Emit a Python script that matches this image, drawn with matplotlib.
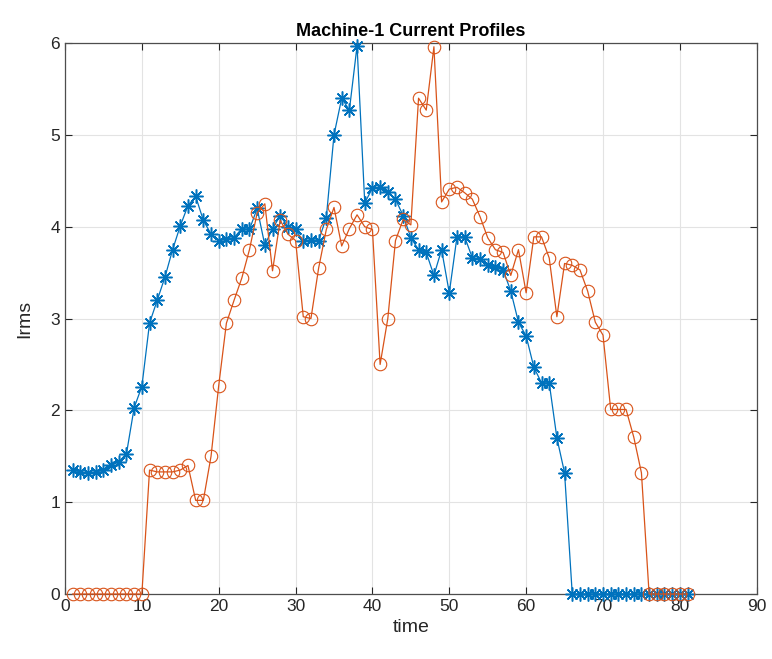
import numpy as np
import matplotlib
matplotlib.use('Agg')
import matplotlib.pyplot as plt

plt.rcParams['font.family'] = ['Liberation Sans', 'DejaVu Sans']

# sample index 1..81
time = np.arange(1, 82)

# machine-1, first profile (blue asterisks)
irms_a = [1.35, 1.33, 1.32, 1.33, 1.35, 1.40, 1.44, 1.53, 2.03, 2.26,
          2.95, 3.20, 3.45, 3.75, 4.01, 4.23, 4.33, 4.07, 3.92, 3.85,
          3.87, 3.88, 3.98, 3.97, 4.20, 3.80, 3.98, 4.12, 4.00, 3.97,
          3.84, 3.86, 3.85, 4.10, 5.00, 5.40, 5.27, 5.97, 4.26, 4.42,
          4.43, 4.38, 4.30, 4.12, 3.88, 3.75, 3.72, 3.47, 3.75, 3.28,
          3.89, 3.89, 3.66, 3.65, 3.58, 3.56, 3.53, 3.30, 2.96, 2.81,
          2.47, 2.30, 2.30, 1.70, 1.32, 0, 0, 0, 0, 0,
          0, 0, 0, 0, 0, 0, 0, 0, 0, 0, 0]

# second profile (orange circles)
irms_b = [0, 0, 0, 0, 0, 0, 0, 0, 0, 0,
          1.35, 1.33, 1.33, 1.33, 1.35, 1.40, 1.02, 1.02, 1.50, 2.27,
          2.95, 3.20, 3.44, 3.75, 4.15, 4.25, 3.52, 4.07, 3.92, 3.85,
          3.02, 3.00, 3.55, 3.97, 4.21, 3.79, 3.98, 4.13, 4.00, 3.97,
          2.50, 3.00, 3.85, 4.08, 4.02, 5.40, 5.27, 5.96, 4.27, 4.41,
          4.43, 4.37, 4.30, 4.11, 3.88, 3.75, 3.72, 3.47, 3.75, 3.28,
          3.89, 3.89, 3.66, 3.02, 3.60, 3.58, 3.53, 3.30, 2.96, 2.82,
          2.01, 2.01, 2.01, 1.71, 1.32, 0, 0, 0, 0, 0, 0]

xticks = np.arange(0, 91, 10)
yticks = np.arange(0, 7, 1)

fig = plt.figure(figsize=(7.72, 6.59), dpi=100)
ax = fig.add_axes([0.0842, 0.0986, 0.896, 0.836])

ax.plot(time, irms_a, color='#0072BD', lw=0.9, marker=(8, 2, 0), ms=10, mew=1.1, clip_on=False, zorder=3)
ax.plot(time, irms_b, color='#D95319', lw=0.9, marker='o', ms=9, mfc='none', mew=0.8, clip_on=False, zorder=4)

ax.set_xlim(0, 90)
ax.set_ylim(0, 6)
ax.set_xticks(xticks)
ax.set_yticks(yticks)
ax.grid(True, color='#e3e3e3', lw=0.8)
ax.set_axisbelow(True)
ax.tick_params(direction='in', top=True, right=True, labelsize=12.5, colors='#262626', length=5)
for s in ax.spines.values():
    s.set_color('#4d4d4d'); s.set_linewidth(0.9)

ax.set_xlabel('time', fontsize=14, color='#262626', labelpad=4)
ax.set_ylabel('Irms', fontsize=14, color='#262626', labelpad=12)
ax.set_title('Machine-1 Current Profiles', fontsize=13, fontweight='bold', pad=5)

fig.savefig('out.png', dpi=100)
